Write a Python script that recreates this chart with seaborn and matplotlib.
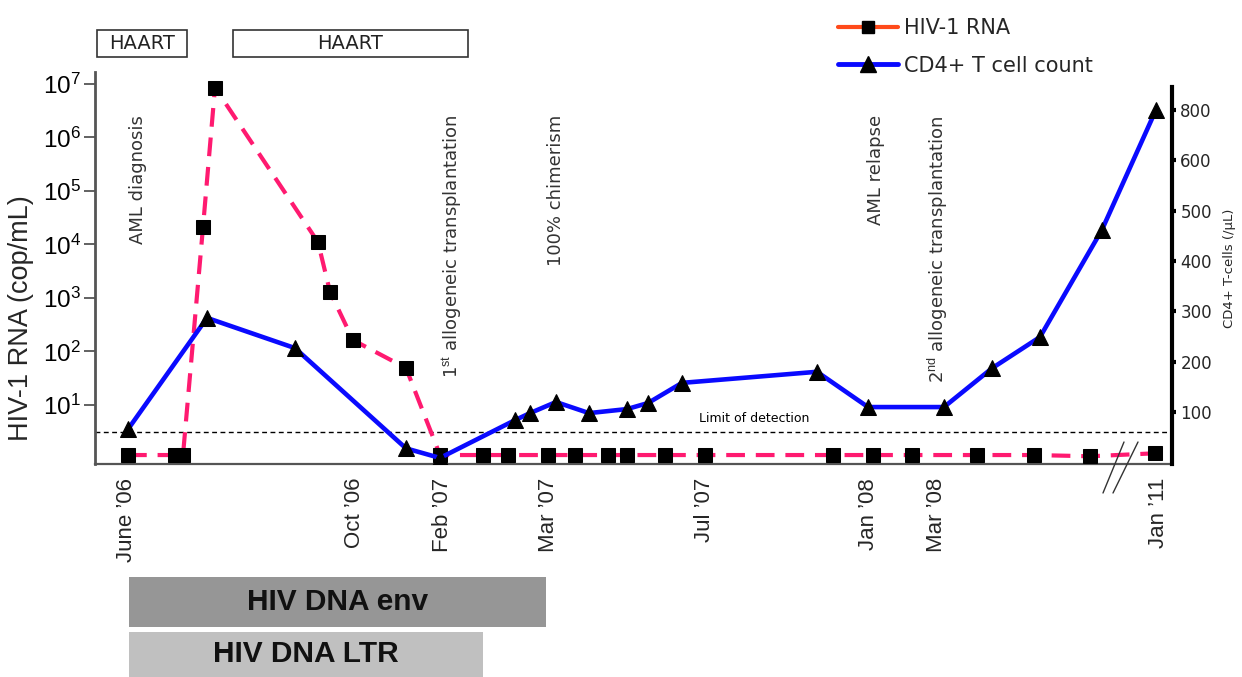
import matplotlib
matplotlib.use("Agg")
import matplotlib.pyplot as plt
import matplotlib.transforms as mtransforms
from matplotlib.lines import Line2D
from matplotlib.patches import Rectangle
from matplotlib.ticker import NullLocator
import seaborn as sns
import pandas as pd

# ---------------- data (schematic, non-uniform timeline positions) ----------------
rna_pos = [128, 175, 183, 203, 215, 318, 330, 353, 406, 440, 483, 508, 548, 575,
           608, 627, 665, 705, 833, 873, 912, 977, 1034, 1090, 1155]
rna_copies = [1.16, 1.16, 1.16, 2.1e4, 8.5e6, 1.1e4, 1.3e3, 163, 49, 1.16, 1.16, 1.16,
              1.16, 1.16, 1.16, 1.16, 1.16, 1.16, 1.16, 1.16, 1.16, 1.16, 1.16, 1.1, 1.25]

cd4_pos = [128, 207, 295, 406, 440, 515, 530, 556, 589, 627, 648, 682, 817, 868,
           944, 992, 1040, 1102, 1156]
# values on the (mislabelled) right-hand scale; the last tick position is labelled 800
cd4_count = [66, 287, 227, 28, 9, 84, 98, 120, 98, 106, 118, 158, 180, 110,
             110, 187, 249, 462, 700]

date_pos = [126, 355, 442, 548, 705, 869, 937, 1158]
date_labels = ["June \u201906", "Oct \u201906", "Feb \u201907", "Mar \u201907",
               "Jul \u201907", "Jan \u201908", "Mar \u201908", "Jan \u201911"]

event_pos = [138, 452, 556, 876, 938]
event_labels = ["AML diagnosis", "1$^{\\mathrm{st}}$ allogeneic transplantation",
                "100% chimerism", "AML relapse",
                "2$^{\\mathrm{nd}}$ allogeneic transplantation"]

haart_start = [97, 233]
haart_end = [187, 468]

dna_labels = ["HIV DNA env", "HIV DNA LTR"]
dna_start = [129, 129]
dna_end = [546, 483]
dna_colors = ["#969696", "#c0c0c0"]

limit_of_detection = 3.13
left_ticks = [10 ** k for k in range(1, 8)]
left_tick_labels = [f"$10^{{{k}}}$" for k in range(1, 8)]
right_ticks = [100, 200, 300, 400, 500, 600, 700]
right_tick_labels = ["100", "200", "300", "400", "500", "600", "800"]

# ---------------- style ----------------
sns.set_style("white")
plt.rcParams["font.family"] = ["DejaVu Sans"]
plt.rcParams["mathtext.fontset"] = "custom"
plt.rcParams["mathtext.rm"] = "Liberation Sans"
plt.rcParams["mathtext.it"] = "Liberation Sans:italic"
plt.rcParams["mathtext.bf"] = "Liberation Sans:bold"

W, H = 1242, 677
fig = plt.figure(figsize=(W / 100, H / 100), dpi=100)
fig.patch.set_facecolor("white")


def fy(px):
    return 1 - px / H


ax_l, ax_r, ax_t, ax_b = 95, 1172, 72, 464
ax = fig.add_axes([ax_l / W, fy(ax_b), (ax_r - ax_l) / W, (ax_b - ax_t) / H])
ax.set_facecolor("none")
ax2 = ax.twinx()

rna_df = pd.DataFrame({"pos": rna_pos, "copies": rna_copies})
cd4_df = pd.DataFrame({"pos": cd4_pos, "count": cd4_count})

pink = "#ff1a70"
blue = "#0a0aff"

sns.lineplot(data=rna_df, x="pos", y="copies", ax=ax, color=pink, linewidth=3,
             linestyle=(0, (4.5, 2.6)), marker="s", markersize=9.5,
             markerfacecolor="black", markeredgecolor="black", zorder=3)
ax.set_yscale("log")
ax.set_xlim(ax_l, ax_r)
ax.set_ylim(10 ** -0.103, 10 ** 7.22)
ax.axhline(limit_of_detection, color="black", lw=1, ls=(0, (3.5, 2.5)), zorder=2)

sns.lineplot(data=cd4_df, x="pos", y="count", ax=ax2, color=blue, linewidth=3.3,
             marker="^", markersize=12, markerfacecolor="black",
             markeredgecolor="black", zorder=3)
ax2.set_ylim(-3, 775)
ax2.set_xlim(ax_l, ax_r)

# left axis
ax.set_yticks(left_ticks)
ax.set_yticklabels(left_tick_labels, fontsize=17.5)
ax.yaxis.set_minor_locator(NullLocator())
ax.tick_params(axis="y", direction="out", length=8, width=1.3, color="#555555",
               pad=2, labelcolor="black")
ax.set_ylabel("HIV-1 RNA (cop/mL)", family="Liberation Sans", fontsize=19.5)
ax.yaxis.set_label_coords(-0.0565, 0.372)

# x axis
ax.set_xticks(date_pos)
ax.set_xticklabels(date_labels, rotation=90, family="Liberation Sans", fontsize=16,
                   va="top", ha="center")
ax.tick_params(axis="x", length=0, pad=10)
ax.set_xlabel("")

for s in ["top", "right"]:
    ax.spines[s].set_visible(False)
ax.spines["left"].set_color("#555555")
ax.spines["left"].set_linewidth(2)
ax.spines["bottom"].set_color("#555555")
ax.spines["bottom"].set_linewidth(1.6)

# right axis
ax2.set_yticks(right_ticks)
ax2.set_yticklabels(right_tick_labels, fontsize=12)
ax2.tick_params(axis="y", direction="out", length=3, width=3, color="black", pad=3)
ax2.set_ylabel("CD4+ T-cells (/\u00b5L)", fontsize=9.5, labelpad=8)
for s in ["top", "left", "bottom"]:
    ax2.spines[s].set_visible(False)
ax2.spines["right"].set_color("black")
ax2.spines["right"].set_linewidth(3)
ax2.spines["right"].set_bounds(-3, 745)
ax2.set_xlabel("")

# event annotations
for xp, lab in zip(event_pos, event_labels):
    ax.text(xp, (ax_b - 115) / (ax_b - ax_t), lab, transform=ax.get_xaxis_transform(),
            rotation=90, va="top", ha="center", fontsize=13, color="#333333")

trans_fig = mtransforms.blended_transform_factory(ax.transData, fig.transFigure)
ax.text(754, fy(418), "Limit of detection", transform=trans_fig, fontsize=9,
        ha="center", va="center", color="black")

# HAART boxes
for x0, x1 in zip(haart_start, haart_end):
    ax2.add_patch(Rectangle((x0, fy(57)), x1 - x0, (57 - 30) / H, transform=trans_fig,
                            facecolor="white", edgecolor="#333333", lw=1.2,
                            clip_on=False, zorder=5))
    ax2.text((x0 + x1) / 2, fy(43.5), "HAART", transform=trans_fig, ha="center",
             va="center", fontsize=14, color="#222222", clip_on=False, zorder=6)

# HIV DNA bars
bar_tops = [577, 632]
bar_bottoms = [627, 677]
for lab, x0, x1, c, t, b in zip(dna_labels, dna_start, dna_end, dna_colors, bar_tops, bar_bottoms):
    ax2.add_patch(Rectangle((x0, fy(b)), x1 - x0, (b - t) / H, transform=trans_fig,
                            facecolor=c, edgecolor="none", clip_on=False, zorder=5))
    ax2.text((x0 + x1) / 2, fy((t + b) / 2), lab, transform=trans_fig, ha="center",
             va="center", fontsize=21.5, weight="bold", family="Liberation Sans",
             color="#111111", clip_on=False, zorder=6)

# axis break marks
for x0, x1 in [(1103, 1124), (1113, 1138)]:
    ax2.add_line(Line2D([x0, x1], [fy(493), fy(442)], transform=trans_fig, color="#333333",
                        lw=1, clip_on=False))

# legend
handles = [
    Line2D([0], [0], color="#ff4a1a", lw=3, marker="s", markersize=9,
           markerfacecolor="black", markeredgecolor="black"),
    Line2D([0], [0], color=blue, lw=3.5, marker="^", markersize=12,
           markerfacecolor="black", markeredgecolor="black"),
]
ax2.legend(handles, ["HIV-1 RNA", "CD4+ T cell count"], loc="upper left",
           bbox_to_anchor=(838 / W, fy(18)), bbox_transform=fig.transFigure,
           frameon=False, fontsize=15, handlelength=2.9, handletextpad=0.25,
           labelspacing=0.85, borderpad=0, borderaxespad=0)

fig.savefig("out.png", dpi=100)
